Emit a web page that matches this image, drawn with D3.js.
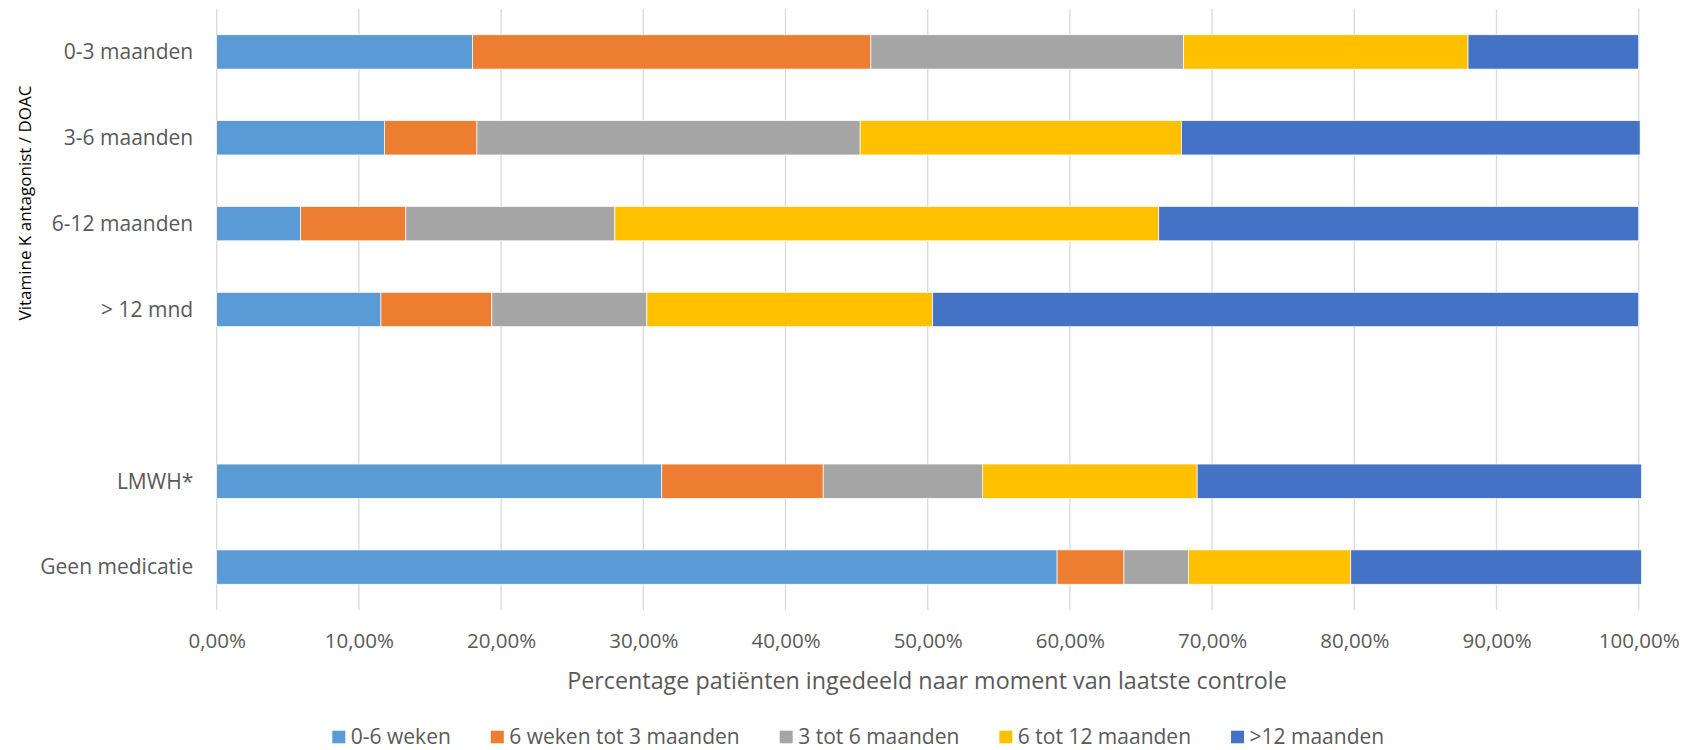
<!DOCTYPE html>
<html>
<head>
<meta charset="utf-8">
<script src="https://cdn.jsdelivr.net/npm/d3@7"></script>
<style>
  html, body { margin: 0; padding: 0; background: #fff; }
  svg { display: block; font-family: "Open Sans", "Noto Sans", sans-serif; }
</style>
</head>
<body>
<svg id="chart" width="1687" height="750"></svg>
<script>
// ---- data ----
const categories = ["0-3 maanden", "3-6 maanden", "6-12 maanden", "> 12 mnd", " ", "LMWH*", "Geen medicatie"];
const seriesNames = ["0-6 weken", "6 weken tot 3 maanden", "3 tot 6 maanden", "6 tot 12 maanden", ">12 maanden"];
const seriesColors = ["#5B9BD5", "#ED7D31", "#A5A5A5", "#FFC000", "#4472C4"];
const s_0_6w   = [18.0, 11.8,  5.9, 11.55, 0, 31.3, 59.1];
const s_6w_3m  = [28.0,  6.5,  7.4,  7.8,  0, 11.35, 4.7];
const s_3_6m   = [22.0, 26.95, 14.7, 10.9, 0, 11.2,  4.55];
const s_6_12m  = [20.0, 22.6, 38.25, 20.1, 0, 15.1, 11.4];
const s_12m    = [12.0, 32.25, 33.75, 49.65, 0, 31.25, 20.45];
const tickValues = [0, 10, 20, 30, 40, 50, 60, 70, 80, 90, 100];
const tickLabels = ["0,00%", "10,00%", "20,00%", "30,00%", "40,00%", "50,00%", "60,00%", "70,00%", "80,00%", "90,00%", "100,00%"];
const xTitle = "Percentage patiënten ingedeeld naar moment van laatste controle";
const yTitle = "Vitamine K antagonist / DOAC";

(function () {
// ---- build table ----
const allSeries = [s_0_6w, s_6w_3m, s_3_6m, s_6_12m, s_12m];
const table = categories.map((c, i) => {
  const row = { cat: c };
  seriesNames.forEach((s, j) => row[s] = allSeries[j][i]);
  return row;
});

const svg = d3.select("#chart");
const pLeft = 216.7, pRight = 1638.7, pTop = 9, pBottom = 610;

const x = d3.scaleLinear().domain([0, 100]).range([pLeft, pRight]);
const y = d3.scaleBand().domain(categories).range([pTop, pBottom]).paddingInner(0.6).paddingOuter(0.3);

// gridlines
svg.append("g").selectAll("line").data(tickValues).join("line")
  .attr("x1", d => x(d)).attr("x2", d => x(d))
  .attr("y1", pTop).attr("y2", pBottom)
  .attr("stroke", "#d9d9d9").attr("stroke-width", 1.3);

// stacked bars
const stack = d3.stack().keys(seriesNames);
const stacked = stack(table);
svg.append("g").selectAll("g").data(stacked).join("g")
  .attr("fill", (d, i) => seriesColors[i])
  .selectAll("rect").data(d => d.filter(p => p[1] - p[0] > 0)).join("rect")
  .attr("x", d => x(d[0]))
  .attr("width", d => x(d[1]) - x(d[0]))
  .attr("y", d => y(d.data.cat))
  .attr("height", y.bandwidth())
  .attr("stroke", "#ffffff").attr("stroke-width", 0.7);

// x axis tick labels
const xAxis = d3.axisBottom(x).tickValues(tickValues)
  .tickFormat((d, i) => tickLabels[i]).tickSize(0).tickPadding(0);
const gx = svg.append("g").attr("transform", `translate(0,${pBottom})`).call(xAxis);
gx.select(".domain").remove();
gx.selectAll("text")
  .attr("y", 31).attr("dy", "0.35em")
  .attr("font-family", "Open Sans").attr("font-size", 20.5).attr("fill", "#595959");

// y axis category labels
const yAxis = d3.axisLeft(y).tickSize(0).tickPadding(0);
const gy = svg.append("g").attr("transform", `translate(${pLeft},0)`).call(yAxis);
gy.select(".domain").remove();
gy.selectAll("text")
  .attr("x", -23.5).attr("dy", "0.35em")
  .attr("font-family", "Open Sans").attr("font-size", 21).attr("fill", "#595959");

// x axis title
svg.append("text")
  .attr("x", 927).attr("y", 681).attr("dy", "0.35em")
  .attr("text-anchor", "middle")
  .attr("font-size", 23.3).attr("fill", "#595959")
  .text(xTitle);

// y axis title
svg.append("text")
  .attr("transform", "translate(25,203) rotate(-90)")
  .attr("dy", "0.35em").attr("text-anchor", "middle")
  .attr("font-size", 17).attr("fill", "#000")
  .text(yTitle);

// legend
const legend = svg.append("g").attr("transform", "translate(0,737)");
let lx = 332.3;
seriesNames.forEach((name, i) => {
  const g = legend.append("g").attr("transform", `translate(${lx},0)`);
  g.append("rect").attr("x", 0).attr("y", -6.3).attr("width", 13).attr("height", 12.6).attr("fill", seriesColors[i]);
  const t = g.append("text").attr("x", 18.5).attr("dy", "0.35em")
    .attr("font-size", 21).attr("fill", "#595959").text(name);
  const w = t.node().getComputedTextLength();
  lx += 18.5 + w + 40;
});
})();
</script>
</body>
</html>
